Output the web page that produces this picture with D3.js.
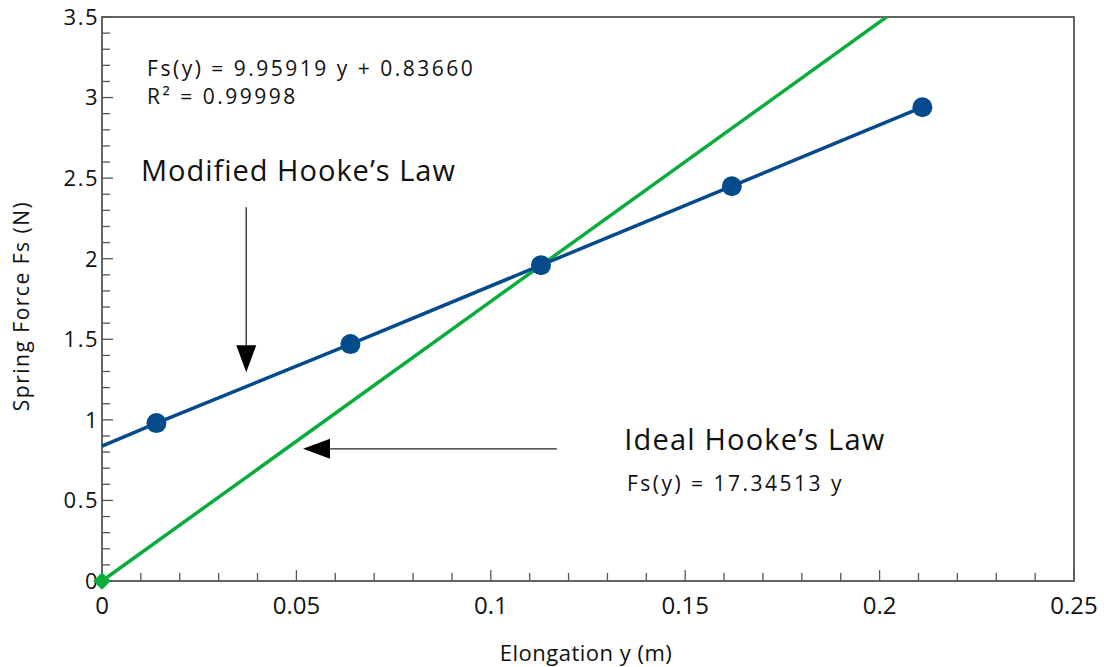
<!DOCTYPE html>
<html>
<head>
<meta charset="utf-8">
<script src="https://cdn.jsdelivr.net/npm/d3@7"></script>
<style>
  body { margin: 0; background: #fff; }
  text { font-family: "Open Sans", sans-serif; fill: #111; }
</style>
</head>
<body>
<div id="chart"></div>
<script>
// measured data (elongation in m, spring force in N)
const elongation = [0.0140, 0.0639, 0.1129, 0.1620, 0.2110];
const springForce = [0.98, 1.47, 1.96, 2.45, 2.94];

// fits
const fitSlope = 9.95919, fitIntercept = 0.83660;
const idealSlope = 17.34513;

const xTicks = [0, 0.05, 0.1, 0.15, 0.2, 0.25];
const yTicks = [0, 0.5, 1, 1.5, 2, 2.5, 3, 3.5];

let width = 1104, height = 667;
let margin = { top: 17, right: 30, bottom: 86, left: 102 };
let w = width - margin.left - margin.right;
let h = height - margin.top - margin.bottom;

let x = d3.scaleLinear().domain([0, 0.25]).range([0, w]);
let y = d3.scaleLinear().domain([0, 3.5]).range([h, 0]);

let svg = d3.select('#chart').append('svg')
    .attr('width', width).attr('height', height);

let defs = svg.append('defs');
defs.append('clipPath').attr('id', 'plot-clip')
    .append('rect').attr('width', w).attr('height', h);

let g = svg.append('g')
    .attr('transform', "translate(" + margin.left + "," + margin.top + ")");

// frame
g.append('rect')
    .attr('width', w).attr('height', h)
    .attr('fill', 'none').attr('stroke', '#333').attr('stroke-width', 1.5);

// minor + major ticks pointing inward
let xMinor = d3.range(0, 0.2501, 0.01);
g.selectAll('.x-tick')
    .data(xMinor).enter().append('line')
    .attr('x1', d => x(d)).attr('x2', d => x(d))
    .attr('y1', h)
    .attr('y2', (d, i) => h - (i % 5 === 0 ? 11 : 8))
    .attr('stroke', '#555').attr('stroke-width', 1.3);

let yMinor = d3.range(0, 3.501, 0.1);
g.selectAll('.y-tick')
    .data(yMinor).enter().append('line')
    .attr('y1', d => y(d)).attr('y2', d => y(d))
    .attr('x1', 0)
    .attr('x2', (d, i) => (i % 5 === 0 ? 11 : 8))
    .attr('stroke', '#555').attr('stroke-width', 1.3);

// tick labels
g.selectAll('.x-label')
    .data(xTicks).enter().append('text')
    .attr('x', d => x(d)).attr('y', h + 33)
    .attr('text-anchor', 'middle')
    .style('font-size', '24px')
    .text(d => d);

g.selectAll('.y-label')
    .data(yTicks).enter().append('text')
    .attr('x', -3).attr('y', d => y(d))
    .attr('dy', '0.36em')
    .attr('text-anchor', 'end')
    .style('font-size', '22px')
    .style('letter-spacing', '1.5px')
    .text(d => d);

// axis titles
svg.append('text')
    .attr('x', margin.left + w / 2 - 2).attr('y', 661)
    .attr('text-anchor', 'middle')
    .style('font-size', '22px')
    .style('letter-spacing', '0.5px')
    .text('Elongation y (m)');

svg.append('text')
    .attr('transform', "translate(29,306) rotate(-90)")
    .attr('text-anchor', 'middle')
    .style('font-size', '21px')
    .style('letter-spacing', '1.5px')
    .text('Spring Force Fs (N)');

let plot = g.append('g').attr('clip-path', 'url(#plot-clip)');

// ideal line
plot.append('line')
    .attr('x1', x(0)).attr('y1', y(0))
    .attr('x2', x(0.25)).attr('y2', y(idealSlope * 0.25))
    .attr('stroke', '#0aac3c').attr('stroke-width', 3.5);

// fitted line through data
let line = d3.line().x(d => x(d[0])).y(d => y(d[1]));
let fitPts = [[0, fitIntercept]].concat(elongation.map((e, i) => [e, springForce[i]]));
g.append('path')
    .attr('d', line(fitPts))
    .attr('fill', 'none').attr('stroke', '#054b8c').attr('stroke-width', 3.5);

g.selectAll('.pt')
    .data(elongation).enter().append('circle')
    .attr('cx', d => x(d)).attr('cy', (d, i) => y(springForce[i]))
    .attr('r', 10).attr('fill', '#054b8c');

// diamond at origin
g.append('path')
    .attr('d', d3.symbol().type(d3.symbolDiamond2).size(200))
    .attr('transform', "translate(" + x(0) + "," + y(0) + ")")
    .attr('fill', '#0aac3c');

// annotations (placed in data units)
function label(xv, yv, size, spacing, txt){
    g.append('text')
        .attr('x', x(xv)).attr('y', y(yv))
        .style('font-size', size + 'px')
        .style('letter-spacing', spacing + 'px')
        .text(txt);
}
label(0.0116, 3.135, 21, 2.5, 'Fs(y) = 9.95919 y + 0.83660');
label(0.0116, 2.962, 21, 2.5, 'R\u00b2 = 0.99998');
label(0.0100, 2.48, 29, 1, 'Modified Hooke\u2019s Law');
label(0.1343, 0.815, 29, 1.2, 'Ideal Hooke\u2019s Law');
label(0.1350, 0.56, 21, 2.5, 'Fs(y) = 17.34513 y');

// arrows
function arrow(x1, y1, x2, y2){
    let px1 = x(x1), py1 = y(y1), px2 = x(x2), py2 = y(y2);
    let ang = Math.atan2(py2 - py1, px2 - px1);
    let len = 27, half = 10;
    let bx = px2 - len * Math.cos(ang), by = py2 - len * Math.sin(ang);
    g.append('line')
        .attr('x1', px1).attr('y1', py1).attr('x2', bx).attr('y2', by)
        .attr('stroke', '#222').attr('stroke-width', 1.3);
    let nx = -Math.sin(ang) * half, ny = Math.cos(ang) * half;
    g.append('path')
        .attr('d', 'M ' + px2 + ' ' + py2 + ' L ' + (bx + nx) + ' ' + (by + ny) + ' L ' + (bx - nx) + ' ' + (by - ny) + ' Z')
        .attr('fill', '#000');
}
arrow(0.0371, 2.32, 0.0371, 1.295);
arrow(0.1170, 0.82, 0.0517, 0.82);
</script>
</body>
</html>
